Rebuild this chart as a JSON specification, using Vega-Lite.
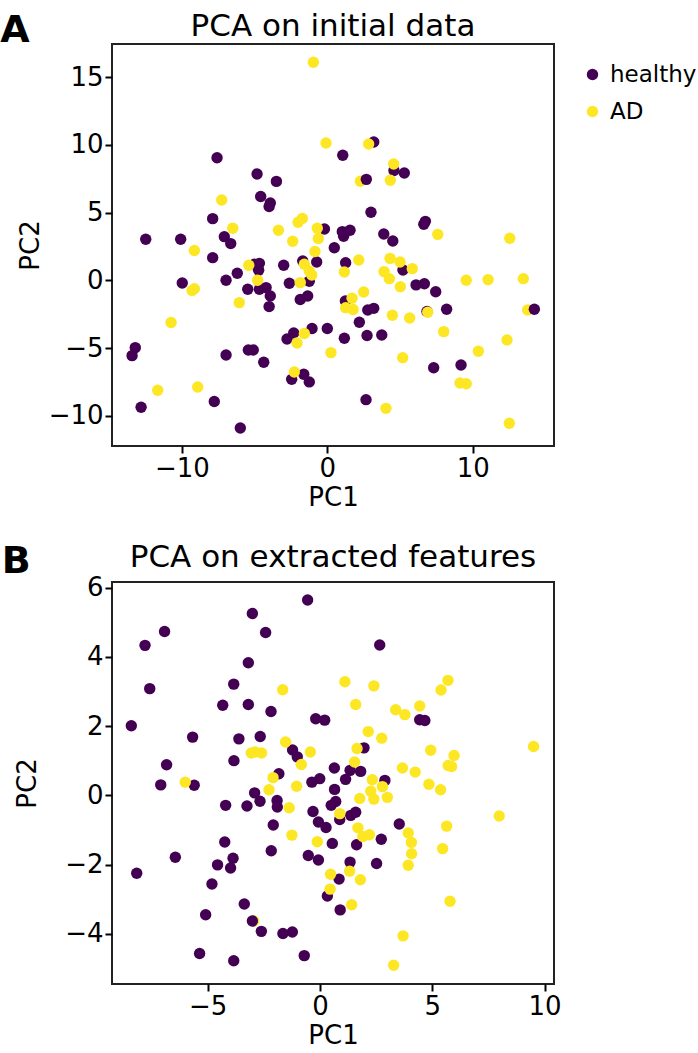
{
  "$schema": "https://vega.github.io/schema/vega-lite/v6.json",
  "padding": {"left": 0, "top": 10, "right": 0, "bottom": 0},
  "background": "white",
  "config": {
    "font": "DejaVu Sans",
    "view": {"stroke": "#222222", "strokeWidth": 2},
    "axis": {"labelFontSize": 26, "titleFontSize": 26, "labelColor": "black", "titleColor": "black", "titleFontWeight": "normal", "tickColor": "black", "tickSize": 7, "tickWidth": 2, "domain": false, "grid": false, "labelFont": "DejaVu Sans", "titleFont": "DejaVu Sans"},
    "axisX": {"labelPadding": 2, "titlePadding": 3},
    "axisY": {"labelPadding": 2, "titlePadding": 5},
    "title": {"font": "DejaVu Sans", "color": "black"},
    "legend": {"labelFontSize": 23, "labelFont": "DejaVu Sans", "labelColor": "black", "symbolSize": 130, "labelOffset": 6, "rowPadding": 13, "padding": 0, "symbolStrokeWidth": 0}
  },
  "datasets": {
    "a": [
      {"x": -7.58, "y": 9.05, "group": "healthy"},
      {"x": -4.83, "y": 7.85, "group": "healthy"},
      {"x": -3.5, "y": 7.3, "group": "healthy"},
      {"x": -4.58, "y": 6.18, "group": "healthy"},
      {"x": -3.92, "y": 5.7, "group": "healthy"},
      {"x": -4.0, "y": 5.44, "group": "healthy"},
      {"x": -7.88, "y": 4.55, "group": "healthy"},
      {"x": -0.2, "y": 3.79, "group": "healthy"},
      {"x": -12.48, "y": 3.03, "group": "healthy"},
      {"x": -10.08, "y": 3.03, "group": "healthy"},
      {"x": -7.08, "y": 3.22, "group": "healthy"},
      {"x": -6.64, "y": 2.71, "group": "healthy"},
      {"x": 0.48, "y": 2.4, "group": "healthy"},
      {"x": 3.19, "y": 10.21, "group": "healthy"},
      {"x": 1.06, "y": 9.23, "group": "healthy"},
      {"x": 4.58, "y": 8.1, "group": "healthy"},
      {"x": 5.29, "y": 7.92, "group": "healthy"},
      {"x": 3.0, "y": 5.02, "group": "healthy"},
      {"x": 6.74, "y": 4.35, "group": "healthy"},
      {"x": 6.63, "y": 4.13, "group": "healthy"},
      {"x": 1.03, "y": 3.59, "group": "healthy"},
      {"x": 1.56, "y": 3.69, "group": "healthy"},
      {"x": 1.12, "y": 3.25, "group": "healthy"},
      {"x": 3.88, "y": 3.42, "group": "healthy"},
      {"x": 4.5, "y": 2.9, "group": "healthy"},
      {"x": -7.88, "y": 1.67, "group": "healthy"},
      {"x": -3.0, "y": 1.11, "group": "healthy"},
      {"x": -1.69, "y": 1.43, "group": "healthy"},
      {"x": -0.73, "y": 1.35, "group": "healthy"},
      {"x": -5.02, "y": 1.18, "group": "healthy"},
      {"x": -4.67, "y": 1.25, "group": "healthy"},
      {"x": -4.72, "y": 0.74, "group": "healthy"},
      {"x": -6.19, "y": 0.52, "group": "healthy"},
      {"x": -6.96, "y": 0.0, "group": "healthy"},
      {"x": -9.97, "y": -0.2, "group": "healthy"},
      {"x": -5.47, "y": -0.66, "group": "healthy"},
      {"x": -4.67, "y": -0.66, "group": "healthy"},
      {"x": -4.21, "y": -0.54, "group": "healthy"},
      {"x": -3.92, "y": -1.16, "group": "healthy"},
      {"x": -4.0, "y": -1.94, "group": "healthy"},
      {"x": -2.61, "y": -0.22, "group": "healthy"},
      {"x": -1.24, "y": -0.07, "group": "healthy"},
      {"x": -1.86, "y": -1.42, "group": "healthy"},
      {"x": -1.35, "y": -1.16, "group": "healthy"},
      {"x": -13.2, "y": -4.97, "group": "healthy"},
      {"x": -13.42, "y": -5.56, "group": "healthy"},
      {"x": -12.8, "y": -9.37, "group": "healthy"},
      {"x": -7.77, "y": -8.95, "group": "healthy"},
      {"x": -5.98, "y": -10.9, "group": "healthy"},
      {"x": -6.96, "y": -5.51, "group": "healthy"},
      {"x": -5.43, "y": -5.14, "group": "healthy"},
      {"x": -5.09, "y": -5.14, "group": "healthy"},
      {"x": -4.37, "y": -6.05, "group": "healthy"},
      {"x": -2.77, "y": -4.33, "group": "healthy"},
      {"x": -2.31, "y": -3.89, "group": "healthy"},
      {"x": -1.05, "y": -3.56, "group": "healthy"},
      {"x": 0.0, "y": -3.56, "group": "healthy"},
      {"x": -2.45, "y": -7.31, "group": "healthy"},
      {"x": -1.62, "y": -6.94, "group": "healthy"},
      {"x": -1.24, "y": -7.5, "group": "healthy"},
      {"x": 1.26, "y": 1.3, "group": "healthy"},
      {"x": 5.2, "y": 0.76, "group": "healthy"},
      {"x": 6.1, "y": -0.34, "group": "healthy"},
      {"x": 6.67, "y": -0.25, "group": "healthy"},
      {"x": 7.45, "y": -0.84, "group": "healthy"},
      {"x": 1.24, "y": -1.53, "group": "healthy"},
      {"x": 2.78, "y": -2.19, "group": "healthy"},
      {"x": 3.19, "y": -2.07, "group": "healthy"},
      {"x": 6.85, "y": -2.3, "group": "healthy"},
      {"x": 8.2, "y": -2.14, "group": "healthy"},
      {"x": 2.2, "y": -3.1, "group": "healthy"},
      {"x": 1.17, "y": -4.28, "group": "healthy"},
      {"x": 2.73, "y": -4.08, "group": "healthy"},
      {"x": 3.74, "y": -4.04, "group": "healthy"},
      {"x": 7.31, "y": -6.45, "group": "healthy"},
      {"x": 9.19, "y": -6.25, "group": "healthy"},
      {"x": 2.66, "y": -8.81, "group": "healthy"},
      {"x": -0.96, "y": 16.09, "group": "AD"},
      {"x": -0.09, "y": 10.13, "group": "AD"},
      {"x": -7.26, "y": 5.93, "group": "AD"},
      {"x": -6.5, "y": 3.84, "group": "AD"},
      {"x": -2.01, "y": 4.28, "group": "AD"},
      {"x": -1.72, "y": 4.57, "group": "AD"},
      {"x": -0.69, "y": 3.84, "group": "AD"},
      {"x": -0.62, "y": 3.08, "group": "AD"},
      {"x": -3.36, "y": 3.69, "group": "AD"},
      {"x": -2.38, "y": 2.88, "group": "AD"},
      {"x": -9.14, "y": 2.2, "group": "AD"},
      {"x": -0.85, "y": 2.12, "group": "AD"},
      {"x": 2.84, "y": 10.06, "group": "AD"},
      {"x": 4.56, "y": 8.58, "group": "AD"},
      {"x": 2.27, "y": 7.31, "group": "AD"},
      {"x": 4.33, "y": 7.38, "group": "AD"},
      {"x": 7.59, "y": 3.39, "group": "AD"},
      {"x": 12.54, "y": 3.1, "group": "AD"},
      {"x": -1.58, "y": 1.18, "group": "AD"},
      {"x": -1.24, "y": 0.69, "group": "AD"},
      {"x": -1.07, "y": 0.39, "group": "AD"},
      {"x": -5.4, "y": 1.11, "group": "AD"},
      {"x": -9.3, "y": -0.76, "group": "AD"},
      {"x": -9.14, "y": -0.62, "group": "AD"},
      {"x": -4.79, "y": 0.0, "group": "AD"},
      {"x": -6.05, "y": -1.65, "group": "AD"},
      {"x": -1.86, "y": -0.17, "group": "AD"},
      {"x": -10.74, "y": -3.12, "group": "AD"},
      {"x": -11.66, "y": -8.12, "group": "AD"},
      {"x": -8.91, "y": -7.87, "group": "AD"},
      {"x": -1.58, "y": -3.93, "group": "AD"},
      {"x": -2.08, "y": -4.63, "group": "AD"},
      {"x": 0.25, "y": -5.34, "group": "AD"},
      {"x": -2.27, "y": -6.77, "group": "AD"},
      {"x": 2.16, "y": 1.5, "group": "AD"},
      {"x": 1.17, "y": 0.61, "group": "AD"},
      {"x": 4.31, "y": 1.62, "group": "AD"},
      {"x": 5.0, "y": 1.35, "group": "AD"},
      {"x": 5.84, "y": 0.86, "group": "AD"},
      {"x": 3.9, "y": 0.64, "group": "AD"},
      {"x": 4.26, "y": 0.12, "group": "AD"},
      {"x": 5.02, "y": -0.47, "group": "AD"},
      {"x": 9.55, "y": 0.0, "group": "AD"},
      {"x": 11.05, "y": 0.05, "group": "AD"},
      {"x": 13.47, "y": 0.12, "group": "AD"},
      {"x": 2.5, "y": -0.86, "group": "AD"},
      {"x": 1.7, "y": -1.33, "group": "AD"},
      {"x": 1.26, "y": -2.02, "group": "AD"},
      {"x": 1.77, "y": -2.16, "group": "AD"},
      {"x": 4.47, "y": -2.58, "group": "AD"},
      {"x": 5.66, "y": -2.78, "group": "AD"},
      {"x": 6.9, "y": -2.36, "group": "AD"},
      {"x": 13.77, "y": -2.19, "group": "AD"},
      {"x": 8.0, "y": -3.79, "group": "AD"},
      {"x": 5.18, "y": -5.71, "group": "AD"},
      {"x": 10.38, "y": -5.24, "group": "AD"},
      {"x": 12.35, "y": -4.4, "group": "AD"},
      {"x": 9.12, "y": -7.58, "group": "AD"},
      {"x": 9.55, "y": -7.63, "group": "AD"},
      {"x": 4.03, "y": -9.45, "group": "AD"},
      {"x": 12.51, "y": -10.55, "group": "AD"},
      {"x": 14.23, "y": -2.14, "group": "healthy"},
      {"x": 2.68, "y": 7.45, "group": "healthy"}
    ],
    "b": [
      {"x": -0.55, "y": 5.64, "group": "healthy"},
      {"x": -3.01, "y": 5.25, "group": "healthy"},
      {"x": -6.92, "y": 4.73, "group": "healthy"},
      {"x": -7.79, "y": 4.33, "group": "healthy"},
      {"x": -2.42, "y": 4.7, "group": "healthy"},
      {"x": -3.19, "y": 3.83, "group": "healthy"},
      {"x": -7.58, "y": 3.08, "group": "healthy"},
      {"x": -3.84, "y": 3.21, "group": "healthy"},
      {"x": -4.33, "y": 2.6, "group": "healthy"},
      {"x": -3.19, "y": 2.62, "group": "healthy"},
      {"x": -2.18, "y": 2.42, "group": "healthy"},
      {"x": -0.19, "y": 2.21, "group": "healthy"},
      {"x": 0.21, "y": 2.17, "group": "healthy"},
      {"x": -8.4, "y": 2.01, "group": "healthy"},
      {"x": -5.67, "y": 1.68, "group": "healthy"},
      {"x": -3.61, "y": 1.63, "group": "healthy"},
      {"x": -2.66, "y": 1.7, "group": "healthy"},
      {"x": -1.22, "y": 1.31, "group": "healthy"},
      {"x": -1.01, "y": 1.11, "group": "healthy"},
      {"x": -6.83, "y": 0.88, "group": "healthy"},
      {"x": -3.83, "y": 1.0, "group": "healthy"},
      {"x": 0.64, "y": 0.79, "group": "healthy"},
      {"x": -1.83, "y": 0.62, "group": "healthy"},
      {"x": -7.09, "y": 0.3, "group": "healthy"},
      {"x": -5.6, "y": 0.29, "group": "healthy"},
      {"x": -0.36, "y": 0.38, "group": "healthy"},
      {"x": -0.01, "y": 0.48, "group": "healthy"},
      {"x": 2.66, "y": 4.34, "group": "healthy"},
      {"x": 4.44, "y": 2.18, "group": "healthy"},
      {"x": 4.67, "y": 2.16, "group": "healthy"},
      {"x": 1.96, "y": 1.37, "group": "healthy"},
      {"x": 1.34, "y": 0.72, "group": "healthy"},
      {"x": 1.81, "y": 0.69, "group": "healthy"},
      {"x": 1.14, "y": 0.46, "group": "healthy"},
      {"x": 2.89, "y": 0.43, "group": "healthy"},
      {"x": -2.91, "y": 0.07, "group": "healthy"},
      {"x": -2.67, "y": -0.17, "group": "healthy"},
      {"x": -1.91, "y": -0.15, "group": "healthy"},
      {"x": -1.9, "y": -0.34, "group": "healthy"},
      {"x": -4.2, "y": -0.29, "group": "healthy"},
      {"x": -3.25, "y": -0.31, "group": "healthy"},
      {"x": 0.65, "y": 0.17, "group": "healthy"},
      {"x": 0.5, "y": -0.29, "group": "healthy"},
      {"x": 0.7, "y": -0.18, "group": "healthy"},
      {"x": -0.31, "y": -0.47, "group": "healthy"},
      {"x": -2.08, "y": -0.86, "group": "healthy"},
      {"x": -0.07, "y": -0.77, "group": "healthy"},
      {"x": 0.27, "y": -0.93, "group": "healthy"},
      {"x": 0.88, "y": -0.7, "group": "healthy"},
      {"x": 0.55, "y": -1.39, "group": "healthy"},
      {"x": -4.24, "y": -1.35, "group": "healthy"},
      {"x": -2.17, "y": -1.6, "group": "healthy"},
      {"x": -0.52, "y": -1.74, "group": "healthy"},
      {"x": -0.07, "y": -1.87, "group": "healthy"},
      {"x": -6.44, "y": -1.79, "group": "healthy"},
      {"x": -3.87, "y": -1.82, "group": "healthy"},
      {"x": -4.56, "y": -2.01, "group": "healthy"},
      {"x": -3.98, "y": -2.1, "group": "healthy"},
      {"x": -8.16, "y": -2.25, "group": "healthy"},
      {"x": -4.81, "y": -2.56, "group": "healthy"},
      {"x": 0.85, "y": -2.42, "group": "healthy"},
      {"x": 0.33, "y": -2.91, "group": "healthy"},
      {"x": 0.9, "y": -3.31, "group": "healthy"},
      {"x": -3.37, "y": -3.14, "group": "healthy"},
      {"x": -5.09, "y": -3.45, "group": "healthy"},
      {"x": -2.61, "y": -3.93, "group": "healthy"},
      {"x": -1.65, "y": -3.99, "group": "healthy"},
      {"x": -1.23, "y": -3.95, "group": "healthy"},
      {"x": -5.36, "y": -4.57, "group": "healthy"},
      {"x": -3.84, "y": -4.78, "group": "healthy"},
      {"x": -0.7, "y": -4.63, "group": "healthy"},
      {"x": 1.37, "y": -0.58, "group": "healthy"},
      {"x": 1.59, "y": -0.49, "group": "healthy"},
      {"x": 2.73, "y": -1.27, "group": "healthy"},
      {"x": 3.53, "y": -0.83, "group": "healthy"},
      {"x": 1.63, "y": -1.43, "group": "healthy"},
      {"x": 1.34, "y": -1.93, "group": "healthy"},
      {"x": 2.52, "y": -1.97, "group": "healthy"},
      {"x": -1.66, "y": 3.05, "group": "AD"},
      {"x": -1.53, "y": 1.54, "group": "AD"},
      {"x": -3.06, "y": 1.22, "group": "AD"},
      {"x": -2.89, "y": 1.25, "group": "AD"},
      {"x": -2.6, "y": 1.22, "group": "AD"},
      {"x": -0.43, "y": 1.25, "group": "AD"},
      {"x": -0.83, "y": 0.89, "group": "AD"},
      {"x": -2.09, "y": 0.51, "group": "AD"},
      {"x": -6.0, "y": 0.38, "group": "AD"},
      {"x": -1.04, "y": 0.26, "group": "AD"},
      {"x": 1.11, "y": 3.28, "group": "AD"},
      {"x": 2.4, "y": 3.16, "group": "AD"},
      {"x": 5.7, "y": 3.32, "group": "AD"},
      {"x": 5.39, "y": 3.04, "group": "AD"},
      {"x": 1.59, "y": 2.62, "group": "AD"},
      {"x": 3.37, "y": 2.47, "group": "AD"},
      {"x": 3.78, "y": 2.33, "group": "AD"},
      {"x": 4.44, "y": 2.58, "group": "AD"},
      {"x": 2.15, "y": 1.84, "group": "AD"},
      {"x": 2.75, "y": 1.65, "group": "AD"},
      {"x": 9.51, "y": 1.41, "group": "AD"},
      {"x": 1.65, "y": 1.35, "group": "AD"},
      {"x": 4.93, "y": 1.3, "group": "AD"},
      {"x": 5.97, "y": 1.15, "group": "AD"},
      {"x": 5.71, "y": 0.86, "group": "AD"},
      {"x": 5.86, "y": 0.83, "group": "AD"},
      {"x": 3.67, "y": 0.79, "group": "AD"},
      {"x": 4.24, "y": 0.67, "group": "AD"},
      {"x": 1.54, "y": 0.96, "group": "AD"},
      {"x": 2.33, "y": 0.45, "group": "AD"},
      {"x": 4.85, "y": 0.32, "group": "AD"},
      {"x": -2.27, "y": 0.16, "group": "AD"},
      {"x": -1.37, "y": -0.36, "group": "AD"},
      {"x": 0.88, "y": -0.53, "group": "AD"},
      {"x": -1.25, "y": -1.15, "group": "AD"},
      {"x": -0.12, "y": -1.34, "group": "AD"},
      {"x": 0.47, "y": -2.28, "group": "AD"},
      {"x": 0.45, "y": -2.71, "group": "AD"},
      {"x": -2.95, "y": -3.63, "group": "AD"},
      {"x": 2.78, "y": 0.25, "group": "AD"},
      {"x": 5.37, "y": 0.16, "group": "AD"},
      {"x": 2.26, "y": 0.12, "group": "AD"},
      {"x": 2.4, "y": -0.11, "group": "AD"},
      {"x": 3.0, "y": -0.06, "group": "AD"},
      {"x": 1.77, "y": -0.09, "group": "AD"},
      {"x": 1.69, "y": -0.94, "group": "AD"},
      {"x": 1.91, "y": -1.19, "group": "AD"},
      {"x": 2.2, "y": -1.14, "group": "AD"},
      {"x": 3.93, "y": -1.09, "group": "AD"},
      {"x": 4.07, "y": -1.36, "group": "AD"},
      {"x": 4.08, "y": -1.69, "group": "AD"},
      {"x": 3.93, "y": -2.02, "group": "AD"},
      {"x": 5.64, "y": -0.89, "group": "AD"},
      {"x": 5.46, "y": -1.54, "group": "AD"},
      {"x": 7.98, "y": -0.6, "group": "AD"},
      {"x": 1.32, "y": -2.19, "group": "AD"},
      {"x": 1.8, "y": -2.44, "group": "AD"},
      {"x": 1.41, "y": -3.16, "group": "AD"},
      {"x": 5.79, "y": -3.06, "group": "AD"},
      {"x": 3.7, "y": -4.06, "group": "AD"},
      {"x": 3.28, "y": -4.91, "group": "AD"},
      {"x": -3.01, "y": -3.63, "group": "healthy"}
    ]
  },
  "concat": [
    {
      "title": {"text": "A", "anchor": "start", "frame": "bounds", "fontSize": 38, "fontWeight": "bold", "offset": -40, "dx": -16},
      "vconcat": [
        {
          "data": {"name": "a"},
          "width": 442,
          "height": 402,
          "title": {"text": "PCA on initial data", "fontSize": 31, "fontWeight": "normal", "offset": 1},
          "mark": {"type": "circle", "size": 130, "opacity": 1},
          "encoding": {
            "x": {"field": "x", "type": "quantitative", "scale": {"domain": [-14.8, 15.58], "nice": false, "zero": false}, "axis": {"values": [-10, 0, 10], "title": "PC1"}},
            "y": {"field": "y", "type": "quantitative", "scale": {"domain": [-12.23, 17.44], "nice": false, "zero": false}, "axis": {"values": [-10, -5, 0, 5, 10, 15], "title": "PC2"}},
            "color": {"field": "group", "type": "nominal", "scale": {"domain": ["healthy", "AD"], "range": ["#440154", "#fde725"]}, "legend": {"title": null, "orient": "none", "legendX": 469, "legendY": 19}}
          }
        }
      ]
    },
    {
      "title": {"text": "B", "anchor": "start", "frame": "bounds", "fontSize": 38, "fontWeight": "bold", "offset": -40, "dx": -12},
      "vconcat": [
        {
          "data": {"name": "b"},
          "width": 442,
          "height": 402,
          "title": {"text": "PCA on extracted features", "fontSize": 31, "fontWeight": "normal", "offset": 1},
          "mark": {"type": "circle", "size": 130, "opacity": 1},
          "encoding": {
            "x": {"field": "x", "type": "quantitative", "scale": {"domain": [-9.26, 10.42], "nice": false, "zero": false}, "axis": {"values": [-5, 0, 5, 10], "title": "PC1"}},
            "y": {"field": "y", "type": "quantitative", "scale": {"domain": [-5.45, 6.16], "nice": false, "zero": false}, "axis": {"values": [-4, -2, 0, 2, 4, 6], "title": "PC2", "titlePadding": 24}},
            "color": {"field": "group", "type": "nominal", "scale": {"domain": ["healthy", "AD"], "range": ["#440154", "#fde725"]}, "legend": null}
          }
        }
      ]
    }
  ],
  "columns": 1,
  "align": "none",
  "spacing": 29,
  "resolve": {"scale": {"color": "independent"}, "legend": {"color": "independent"}}
}
